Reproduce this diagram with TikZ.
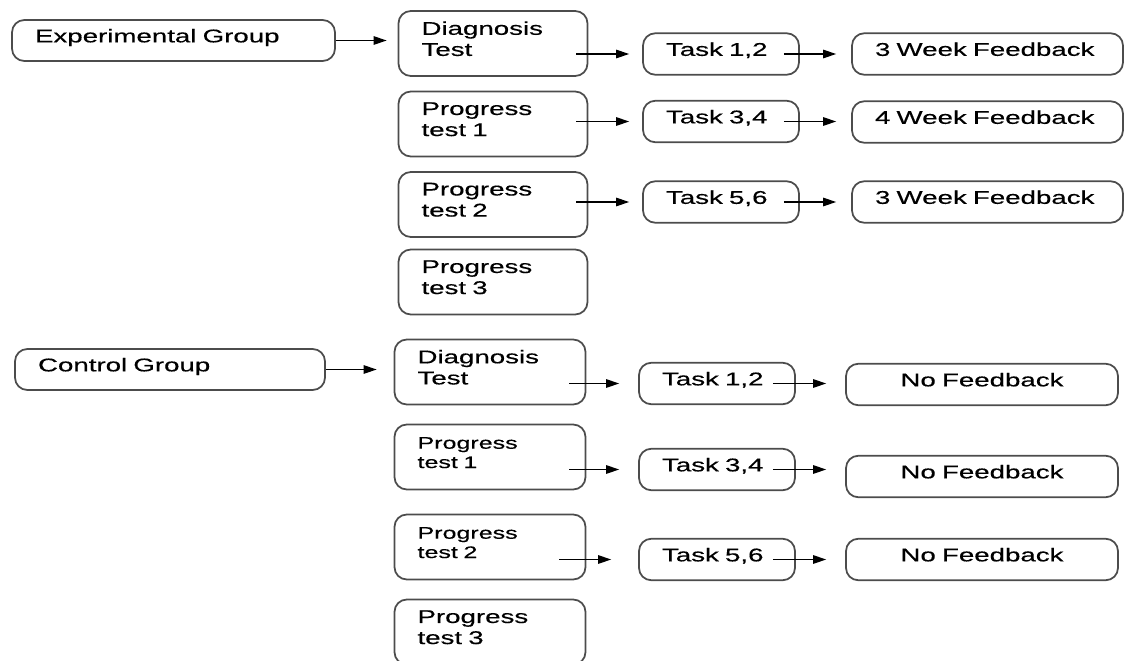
\documentclass[tikz,border=0pt]{standalone}
\usepackage{fontspec}
\setmainfont[FakeStretch=1.5,FakeBold=0.4]{Liberation Sans}
\usetikzlibrary{arrows.meta}
\tikzset{box/.style={draw=black!70,line width=1pt,rounded corners=7pt,inner xsep=0.46cm,inner ysep=2pt,text depth=5.5pt,align=left,font=\fontsize{10.5}{12}\selectfont},
 grp/.style={box,minimum height=0.82cm},
 testbox/.style={box,text width=2.86cm,text depth=17.5pt,minimum height=1.3cm},
 taskbox/.style={box,text width=2.2cm,minimum height=0.83cm},
 fbbox/.style={box,text width=4.5cm,minimum height=0.83cm},
 nofb/.style={box,text width=4.52cm,align=center,minimum height=0.83cm},
 arr/.style={-{Triangle[length=2.6mm,width=1.7mm]},line width=.75pt}}

\begin{document}
\begin{tikzpicture}[x=0.02cm,y=-0.02cm]
\useasboundingbox (0,0) rectangle (1127,660);
% experimental group
\node[grp,text width=5.54cm] (eg) at (173.5,40.5) {Experimental Group};
\node[testbox] (ed) at (493,43.5) {Diagnosis\\Test};
\node[testbox] (ep1) at (493,124) {Progress\\test 1};
\node[testbox] (ep2) at (493,204.5) {Progress\\test 2};
\node[testbox] (ep3) at (493,282) {Progress\\test 3};
\node[taskbox] (et1) at (721,54) {Task 1,2};
\node[taskbox] (et2) at (721,121.5) {Task 3,4};
\node[taskbox] (et3) at (721,202) {Task 5,6};
\node[fbbox] (ef1) at (987.5,54) {3 Week Feedback};
\node[fbbox] (ef2) at (987.5,122) {4 Week Feedback};
\node[fbbox] (ef3) at (987.5,202) {3 Week Feedback};
\draw[arr] (eg.east) -- ([xshift=-0.22cm]eg.east -| ed.west);
\draw[arr] ([xshift=-0.24cm]ed.east |- et1.west) -- ([xshift=-0.26cm]et1.west);
\draw[arr] ([xshift=-0.24cm]ep1.east |- et2.west) -- ([xshift=-0.26cm]et2.west);
\draw[arr] ([xshift=-0.24cm]ep2.east |- et3.west) -- ([xshift=-0.26cm]et3.west);
\draw[arr] ([xshift=-0.32cm]et1.east) -- ([xshift=-0.30cm]et1.east -| ef1.west);
\draw[arr] ([xshift=-0.32cm]et2.east) -- ([xshift=-0.30cm]et2.east -| ef2.west);
\draw[arr] ([xshift=-0.32cm]et3.east) -- ([xshift=-0.30cm]et3.east -| ef3.west);
% control group
\node[grp,text width=5.28cm] (cg) at (170,369.5) {Control Group};
\node[testbox,text width=2.9cm] (cd) at (490,372) {Diagnosis\\Test};
\node[testbox,text width=2.9cm,text depth=16pt,font=\fontsize{9.5}{11}\selectfont] (cp1) at (490,457) {Progress\\test 1};
\node[testbox,text width=2.9cm,text depth=16pt,font=\fontsize{9.5}{11}\selectfont] (cp2) at (490,547) {Progress\\test 2};
\node[testbox,text width=2.9cm] (cp3) at (490,632) {Progress\\test 3};
\node[taskbox] (ct1) at (717,383.5) {Task 1,2};
\node[taskbox] (ct2) at (717,469.5) {Task 3,4};
\node[taskbox] (ct3) at (717,559.5) {Task 5,6};
\node[nofb] (cf1) at (982,384.5) {No Feedback};
\node[nofb] (cf2) at (982,476.5) {No Feedback};
\node[nofb] (cf3) at (982,559.5) {No Feedback};
\draw[arr] (cg.east) -- ([xshift=-0.34cm]cg.east -| cd.west);
\draw[arr] ([xshift=-0.34cm]cd.east |- ct1.west) -- ([xshift=-0.38cm]ct1.west);
\draw[arr] ([xshift=-0.34cm]cp1.east |- ct2.west) -- ([xshift=-0.38cm]ct2.west);
\draw[arr] ([xshift=-0.54cm]cp2.east |- ct3.west) -- ([xshift=-0.54cm]ct3.west);
\draw[arr] ([xshift=-0.46cm]ct1.east) -- ([xshift=-0.38cm]ct1.east -| cf1.west);
\draw[arr] ([xshift=-0.46cm]ct2.east) -- ([xshift=-0.38cm]ct2.east -| cf2.west);
\draw[arr] ([xshift=-0.46cm]ct3.east) -- ([xshift=-0.38cm]ct3.east -| cf3.west);
\end{tikzpicture}
\end{document}
